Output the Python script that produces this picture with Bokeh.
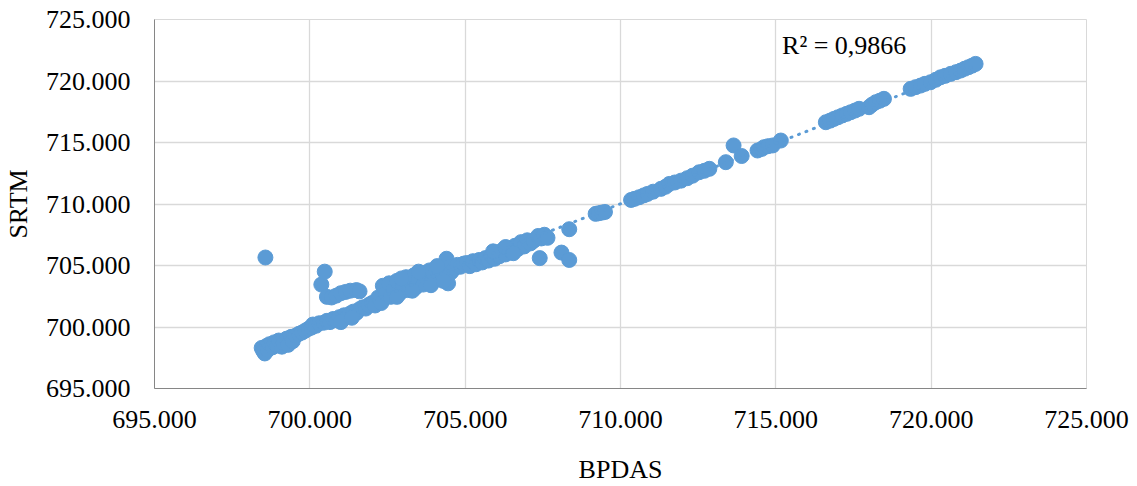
import numpy as np
from bokeh.plotting import figure
from bokeh.models import FixedTicker, Label
from bokeh.embed import file_html
from bokeh.resources import INLINE

# BPDAS vs SRTM elevations
bpdas = [
    698.45, 698.50, 698.55, 698.60, 698.65, 698.70, 698.80, 698.85, 698.95, 699.00,
    699.10, 699.15, 699.25, 699.30, 699.40, 699.45, 699.55, 699.65, 699.75, 699.85,
    699.95, 700.05, 700.10, 700.20, 700.30, 700.45, 700.55, 700.65, 700.75, 700.85,
    700.95, 701.05, 701.10, 701.20, 701.30, 701.40, 701.50, 701.60, 701.70, 701.80,
    701.90, 702.00, 702.10,
    698.57,
    700.37, 700.48, 700.55, 700.70, 700.85, 701.00, 701.15, 701.30, 701.50, 701.60,
    702.20, 702.30, 702.35, 702.45, 702.55, 702.60, 702.70, 702.80, 702.90, 703.00,
    703.10, 703.15, 703.25, 703.35, 703.40, 703.50, 703.60, 703.65, 703.75, 703.85,
    703.90, 704.00, 704.10, 704.15, 704.25, 704.30, 704.40, 704.45, 704.50, 704.55,
    704.65, 704.75, 704.85, 704.95,
    702.80, 703.30, 703.90, 704.30, 702.95, 703.50, 704.10, 701.00, 701.35,
    705.05, 705.15, 705.25, 705.35, 705.45, 705.55, 705.65, 705.75, 705.85, 705.95,
    706.00, 706.10, 706.20, 706.30, 706.40, 706.50, 706.60, 706.70, 706.80, 706.90,
    707.00, 707.10, 707.20, 707.35, 707.45, 707.55, 707.65,
    705.90, 706.30, 706.55,
    707.40, 708.10, 708.35, 708.35,
    709.20, 709.30, 709.40, 709.50,
    710.34, 710.45, 710.60, 710.75, 710.87, 711.05, 711.30, 711.45, 711.57, 711.75,
    711.95, 712.15, 712.32, 712.53, 712.70, 712.86, 713.39, 713.64, 713.90,
    714.41, 714.55, 714.62, 714.75, 714.90, 715.16,
    716.61, 716.75, 716.87, 717.00, 717.14, 717.28, 717.41, 717.55, 717.68, 718.00,
    718.10, 718.22, 718.35, 718.48,
    719.34, 719.50, 719.66, 719.80, 719.98, 720.15, 720.30, 720.45, 720.63, 720.80,
    720.95, 721.08, 721.20, 721.32, 721.43,
]
srtm = [
    698.30, 698.05, 697.85, 698.45, 698.15, 698.60, 698.35, 698.75, 698.50, 698.90,
    698.40, 698.70, 699.05, 698.55, 699.20, 698.85, 699.30, 699.45, 699.55, 699.70,
    699.85, 699.95, 700.20, 700.10, 700.30, 700.35, 700.50, 700.40, 700.65, 700.55,
    700.80, 700.60, 700.95, 700.85, 701.10, 701.25, 701.15, 701.45, 701.60, 701.50,
    701.80, 701.95, 701.75,
    705.65,
    703.45, 704.50, 702.45, 702.40, 702.55, 702.75, 702.85, 702.95, 703.00, 702.90,
    702.40, 701.95, 703.35, 702.70, 703.55, 702.45, 703.05, 703.75, 702.75, 703.40,
    704.05, 703.00, 703.65, 704.20, 703.20, 703.85, 704.40, 703.45, 704.05, 704.60,
    703.65, 704.25, 703.85, 704.70, 704.40, 704.00, 705.55, 703.55, 704.90, 704.45,
    704.75, 705.05, 704.90, 705.15,
    702.45, 702.95, 703.40, 703.75, 703.95, 704.50, 704.95, 700.40, 700.75,
    705.20, 704.95, 705.35, 705.10, 705.45, 705.25, 705.60, 705.40, 705.80, 705.55,
    706.05, 705.75, 706.25, 705.90, 706.40, 706.15, 706.60, 706.35, 706.90, 706.55,
    707.05, 706.80, 707.00, 707.40, 707.20, 707.50, 707.25,
    706.15, 706.50, 706.00,
    705.60, 706.05, 705.45, 707.95,
    709.20, 709.25, 709.30, 709.35,
    710.33, 710.42, 710.55, 710.70, 710.82, 711.00, 711.23, 711.40, 711.63, 711.75,
    711.90, 712.10, 712.30, 712.58, 712.70, 712.86, 713.40, 714.76, 713.90,
    714.35, 714.48, 714.62, 714.70, 714.76, 715.16,
    716.65, 716.78, 716.92, 717.05, 717.20, 717.33, 717.46, 717.60, 717.74, 717.87,
    718.08, 718.28, 718.40, 718.55,
    719.36, 719.50, 719.63, 719.77, 719.90, 720.10, 720.30, 720.42, 720.58, 720.72,
    720.85, 721.00, 721.12, 721.25, 721.39,
]

tick_values = [695, 700, 705, 710, 715, 720, 725]
tick_labels = ["695.000", "700.000", "705.000", "710.000", "715.000", "720.000", "725.000"]
r2_text = "R² = 0,9866"

FONT = "Liberation Serif"
BLUE = "#5B9BD5"

p = figure(
    width=1137, height=486,
    x_range=(695, 725), y_range=(695, 725),
    output_backend="svg", toolbar_location=None,
    min_border_left=153, min_border_right=51,
    min_border_top=19, min_border_bottom=98,
)
p.background_fill_color = "white"
p.border_fill_color = "white"
p.outline_line_color = "#d9d9d9"

# axes
for ax in (p.xaxis[0], p.yaxis[0]):
    ax.ticker = FixedTicker(ticks=tick_values)
    ax.major_label_overrides = {float(v): t for v, t in zip(tick_values, tick_labels)}
    ax.major_label_text_font = FONT
    ax.major_label_text_font_size = "26px"
    ax.major_label_text_color = "black"
    ax.axis_label_text_font = FONT
    ax.axis_label_text_font_size = "26px"
    ax.axis_label_text_font_style = "normal"
    ax.axis_label_text_color = "black"
    ax.axis_line_color = "#868686"
    ax.axis_line_width = 1
    ax.major_tick_line_color = None
    ax.minor_tick_line_color = None
    ax.major_tick_out = 0
    ax.major_tick_in = 0

p.xaxis.axis_label = "BPDAS"
p.yaxis.axis_label = "SRTM"
p.xaxis.major_label_standoff = 22
p.xaxis.axis_label_standoff = 24
p.yaxis.major_label_standoff = 24
p.yaxis.axis_label_standoff = 10

for g in (p.xgrid[0], p.ygrid[0]):
    g.ticker = FixedTicker(ticks=tick_values)
    g.grid_line_color = "#d9d9d9"
    g.grid_line_width = 1.3

# points
p.scatter(bpdas, srtm, size=15, fill_color=BLUE, line_color=BLUE, marker="circle")

# linear trendline through the data range
xa = np.array(bpdas)
ya = np.array(srtm)
slope, intercept = np.polyfit(xa, ya, 1)
xs = [xa.min(), xa.max()]
ys = [slope * v + intercept for v in xs]
p.line(xs, ys, line_color=BLUE, line_width=3, line_dash="1 7", line_cap="round")

p.add_layout(Label(x=715.2, y=721.7, text=r2_text, text_font=FONT,
                   text_font_size="26px", text_color="black",
                   text_baseline="bottom"))

open("out.html", "w").write(file_html(p, INLINE))
